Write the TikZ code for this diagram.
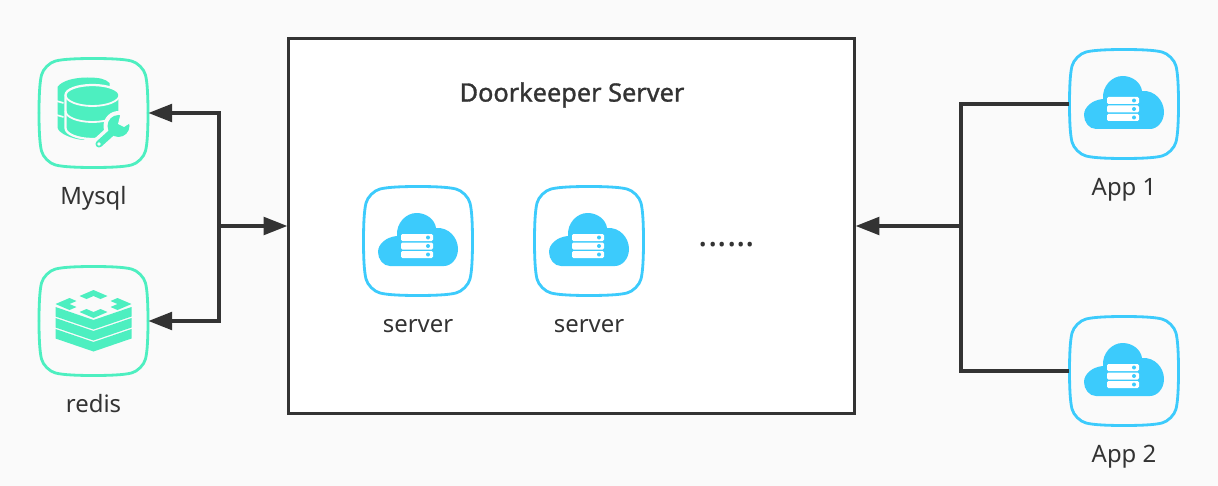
\documentclass[tikz,border=0pt]{standalone}
\usepackage{fontspec}
\setmainfont{Noto Sans}[AutoFakeBold=1.2]
\usetikzlibrary{arrows.meta, positioning}
\definecolor{PageGrey}{HTML}{FAFAFA}
\definecolor{LineDark}{HTML}{333333}
\definecolor{TextDark}{HTML}{333333}
\definecolor{StoreMint}{HTML}{4DEFC0}
\definecolor{CloudCyan}{HTML}{3CCBFC}
\tikzset{
  mainbox/.style={rectangle, draw=LineDark, line width=2.1pt, fill=white,
                  minimum width=14.125cm, minimum height=9.375cm},
  iconbox/.style={rectangle, minimum size=2.725cm, inner sep=0pt},
  lbl/.style={font=\fontsize{17}{20}\selectfont, text=TextDark, inner sep=0pt,
              text height=12.5pt, text depth=3.5pt, align=center},
  arr/.style={-{Triangle[length=17pt, width=12.5pt]}, line width=2.7pt, color=LineDark},
  wire/.style={line width=2.7pt, color=LineDark},
}
% rounded frame round an icon
\newcommand{\iconframe}[2]{
  \foreach \r in {0,90,180,270}
    \draw[shift={(#1.center)}, rotate=\r, #2, line width=2pt, line cap=round]
      (0,-54.5) .. controls (15,-54.5) and (30,-54) .. (38,-52)
      .. controls (44,-50.5) and (50.5,-44) .. (52,-38)
      .. controls (54,-30) and (54.5,-15) .. (54.5,0);
}
% cloud with three server bars
\newcommand{\cloudicon}[1]{
  \iconframe{#1}{CloudCyan}
  \begin{scope}[shift={(#1.center)}]
    \fill[CloudCyan] (-28,25) .. controls (-35,25) and (-40,18) .. (-40,11)
      .. controls (-40,3) and (-32,-4) .. (-21,-5)
      .. controls (-22,-18) and (-12,-28) .. (-1.5,-28)
      .. controls (9,-28) and (17,-21) .. (18,-13)
      .. controls (31,-14) and (40,-3) .. (40,8)
      .. controls (40,18) and (33,25) .. (26,25) -- cycle;
    \foreach \y in {-7,1.5,10} {
      \fill[white, rounded corners=1pt] (-17,\y) rectangle (15,\y+7);
      \fill[CloudCyan] (10,\y+3.5) circle (2);
    }
  \end{scope}
}
\begin{document}
\begin{tikzpicture}[x=0.025cm, y=-0.025cm]
  \useasboundingbox (0,0) rectangle (1218,486);
  \fill[PageGrey] (0,0) rectangle (1218,486);

  \node[mainbox] (door) at (571.5,226) {};
  \node[font=\fontsize{18}{20}\selectfont\bfseries, text=TextDark] (title) at (572,95) {Doorkeeper Server};

  \node[iconbox] (mysql) at (93.5,113) {};
  \node[iconbox] (redis) at (93.5,321) {};
  \node[iconbox] (srva) at (418,241) {};
  \node[iconbox] (srvb) at (589,241) {};
  \node[iconbox] (appa) at (1124,104) {};
  \node[iconbox] (appb) at (1124,371) {};

  \node[lbl, below=0.47cm of mysql] (mysqllbl) {Mysql};
  \node[lbl, below=0.47cm of redis] (redislbl) {redis};
  \node[lbl, below=0.47cm of srva] (srvalbl) {server};
  \node[lbl, below=0.47cm of srvb] (srvblbl) {server};
  \node[lbl, below=0.47cm of appa] (appalbl) {App 1};
  \node[lbl, below=0.47cm of appb] (appblbl) {App 2};
  \node[font=\fontsize{25}{28}\selectfont, text=TextDark, inner sep=0pt] (dots) at (727,245) {......};

  \iconframe{mysql}{StoreMint}
  \iconframe{redis}{StoreMint}
  \cloudicon{srva}
  \cloudicon{srvb}
  \cloudicon{appa}
  \cloudicon{appb}

  % database with wrench
  \begin{scope}[shift={(mysql.center)}]
    \fill[StoreMint] (-36,-26) .. controls (-32,-32) and (-20,-35.5) .. (-6,-35.5)
      .. controls (6,-35.5) and (12,-34) .. (16,-30) -- (16,10) -- (-10,27)
      .. controls (-22,26) and (-36,20) .. (-36,14) -- cycle;
    \foreach \y in {-12,2}
      \draw[PageGrey, line width=1.2pt] (-37,\y) -- (-30,\y+2);
    \fill[StoreMint, draw=PageGrey, line width=1.6pt] (-28,-18) -- (-28,15)
      arc[start angle=180, end angle=0, x radius=27, y radius=11] -- (26,-18)
      arc[start angle=0, end angle=-180, x radius=27, y radius=10] -- cycle;
    \foreach \y in {-18,-2}
      \draw[PageGrey, line width=1.3pt] (-28,\y)
        arc[start angle=180, end angle=0, x radius=27, y radius=11];
    % wrench
    \draw[PageGrey, line width=10pt, line cap=round] (5.5,31) -- (21,17);
    \fill[PageGrey] (25,13) circle (15);
    \draw[StoreMint, line width=5pt, line cap=round] (5.5,31) -- (21,17);
    \fill[StoreMint] (25,13) circle (11);
    \fill[PageGrey] (24.5,11) -- (28,-3) -- (43,6) -- (30.5,14) -- cycle;
    \fill[PageGrey] (5.5,31) circle (1.8);
  \end{scope}

  % stacked layers
  \begin{scope}[shift={(redis.center)}]
    \foreach \y in {0,11,22}
      \fill[StoreMint] (-38,-14+\y) -- (0,-1+\y) -- (38,-14+\y) -- (38,-4.5+\y) -- (0,8.5+\y) -- (-38,-4.5+\y) -- cycle;
    \fill[StoreMint] (0,-31) -- (14,-25) -- (7,-22) -- (0,-25) -- (-7,-22) -- (-14,-25) -- cycle;
    \fill[StoreMint] (0,-3) -- (14,-9) -- (7,-12) -- (0,-9) -- (-7,-12) -- (-14,-9) -- cycle;
    \fill[StoreMint] (-38,-17) -- (-24,-23) -- (-17,-20) -- (-24,-17) -- (-17,-14) -- (-24,-11) -- cycle;
    \fill[StoreMint] (38,-17) -- (24,-23) -- (17,-20) -- (24,-17) -- (17,-14) -- (24,-11) -- cycle;
  \end{scope}

  \coordinate (hubl) at (219,226);
  \coordinate (hubr) at (961,226);

  \draw[arr] (hubl) |- (mysql.east);
  \draw[arr] (hubl) |- (redis.east);
  \draw[arr] (hubl) -- (door.west);
  \draw[wire] (appa.west) -| (hubr);
  \draw[wire] (appb.west) -| (hubr);
  \draw[arr] (hubr) -- (door.east);
\end{tikzpicture}
\end{document}
